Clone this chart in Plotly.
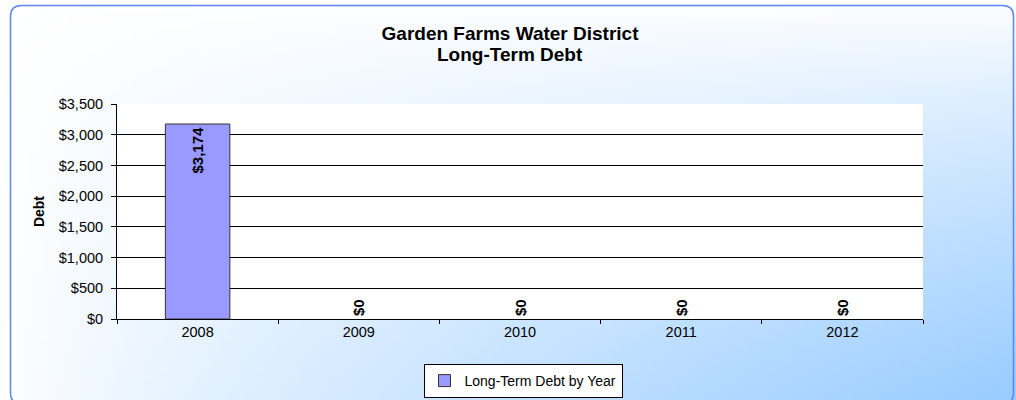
import plotly.graph_objects as go
import zlib, struct, base64

# ---- data ----
years = ["2008", "2009", "2010", "2011", "2012"]
debt = [3174, 0, 0, 0, 0]
label_positions = ["inside", "outside", "outside", "outside", "outside"]
y_tick_values = [0, 500, 1000, 1500, 2000, 2500, 3000, 3500]
y_tick_text = ["$0", "$500", "$1,000", "$1,500", "$2,000", "$2,500", "$3,000", "$3,500"]
series_name = "Long-Term Debt by Year"
title_line1 = "Garden Farms Water District"
title_line2 = "Long-Term Debt"
y_title = "Debt"

# ---- geometry ----
W, H = 1016, 400
L, R, T, B = 117, 93, 104, 81
pw, ph = W - L - R, H - T - B


def px_x(x):
    return (x - L) / pw


def px_y(y):
    return (H - B - y) / ph


def gradient_png(w, h):
    rows = []
    for j in range(h):
        fy = j / (h - 1)
        row = bytearray([0])
        for i in range(w):
            fx = i / (w - 1)
            t = (fx * fy) ** 0.8
            r = round(255 - t * (255 - 153))
            g = round(255 - t * (255 - 204))
            row += bytes([r, g, 255])
        rows.append(bytes(row))
    raw = b"".join(rows)

    def chunk(tag, data):
        return (struct.pack(">I", len(data)) + tag + data
                + struct.pack(">I", zlib.crc32(tag + data) & 0xffffffff))

    png = (b"\x89PNG\r\n\x1a\n"
           + chunk(b"IHDR", struct.pack(">IIBBBBB", w, h, 8, 2, 0, 0, 0))
           + chunk(b"IDAT", zlib.compress(raw))
           + chunk(b"IEND", b""))
    return "data:image/png;base64," + base64.b64encode(png).decode()


def rounded_rect_path(x0, y0, x1, y1, r):
    pts = [
        ("M", [(x0 + r, y0)]),
        ("L", [(x1 - r, y0)]),
        ("Q", [(x1, y0), (x1, y0 + r)]),
        ("L", [(x1, y1 - r)]),
        ("Q", [(x1, y1), (x1 - r, y1)]),
        ("L", [(x0 + r, y1)]),
        ("Q", [(x0, y1), (x0, y1 - r)]),
        ("L", [(x0, y0 + r)]),
        ("Q", [(x0, y0), (x0 + r, y0)]),
    ]
    parts = []
    for cmd, ps in pts:
        parts.append(cmd + " " + " ".join(f"{px_x(a):.5f},{px_y(b):.5f}" for a, b in ps))
    return " ".join(parts) + " Z"


FONT = "Liberation Sans, Arial, sans-serif"

fig = go.Figure()
fig.add_trace(go.Bar(
    x=years, y=debt, name=series_name,
    width=0.4,
    marker=dict(color="#9999FF",
                line=dict(color="#333333", width=[1 if v > 0 else 0 for v in debt])),
    text=[f"${v:,}" for v in debt],
    textposition=label_positions,
    textangle=-90,
    insidetextanchor="end",
    constraintext="none",
    cliponaxis=False,
    textfont=dict(family=FONT, size=15, color="black", weight="bold"),
    showlegend=True,
))

fig.update_layout(
    width=W, height=H,
    margin=dict(l=L, r=R, t=T, b=B, pad=0, autoexpand=False),
    paper_bgcolor="white",
    plot_bgcolor="white",
    font=dict(family=FONT, size=14, color="black"),
    title=dict(text=f"<b>{title_line1}</b>", x=0.502, xanchor="center",
               y=1 - 33 / H, yanchor="middle", yref="container",
               font=dict(size=19, family=FONT, color="black")),
    annotations=[dict(text=f"<b>{title_line2}</b>", xref="paper", yref="paper",
                      x=px_x(510), y=px_y(54), xanchor="center", yanchor="middle",
                      showarrow=False, font=dict(size=19, family=FONT, color="black"))],
    showlegend=True,
    legend=dict(orientation="h", x=px_x(523), xanchor="center", y=px_y(364), yanchor="top",
                bgcolor="white", bordercolor="black", borderwidth=1,
                itemwidth=30,
                font=dict(size=14, family=FONT)),
    xaxis=dict(showline=True, linecolor="black", linewidth=1, ticks="outside",
               tickson="boundaries", ticklen=4, tickcolor="black",
               showgrid=False, tickfont=dict(size=14.5)),
    yaxis=dict(range=[0, 3500], tickmode="array", tickvals=y_tick_values,
               ticktext=y_tick_text,
               showline=True, linecolor="black", linewidth=1, ticks="outside",
               ticklen=5, tickcolor="black", showgrid=True, gridcolor="black",
               gridwidth=1, zeroline=False, tickfont=dict(size=14.5),
               ticklabelstandoff=5,
               title=dict(text=f"<b>{y_title}</b>", standoff=10,
                          font=dict(size=14, family=FONT))),
    images=[dict(source=gradient_png(160, 64), xref="paper", yref="paper",
                 x=px_x(0), y=px_y(0), sizex=W / pw, sizey=H / ph,
                 xanchor="left", yanchor="top", sizing="stretch", layer="below")],
    shapes=[
        dict(type="rect", xref="paper", yref="paper", x0=0, x1=1, y0=0, y1=1,
             fillcolor="white", line=dict(width=0), layer="below"),
        dict(type="path", xref="paper", yref="paper",
             path=rounded_rect_path(10.5, 5.5, 1013.5, 404, 11),
             line=dict(color="#5C85F5", width=1.5), layer="above"),
    ],
)

fig.write_html("out.html", config={"displayModeBar": False},
               post_script="document.body.style.margin='0';document.body.style.padding='0';")
